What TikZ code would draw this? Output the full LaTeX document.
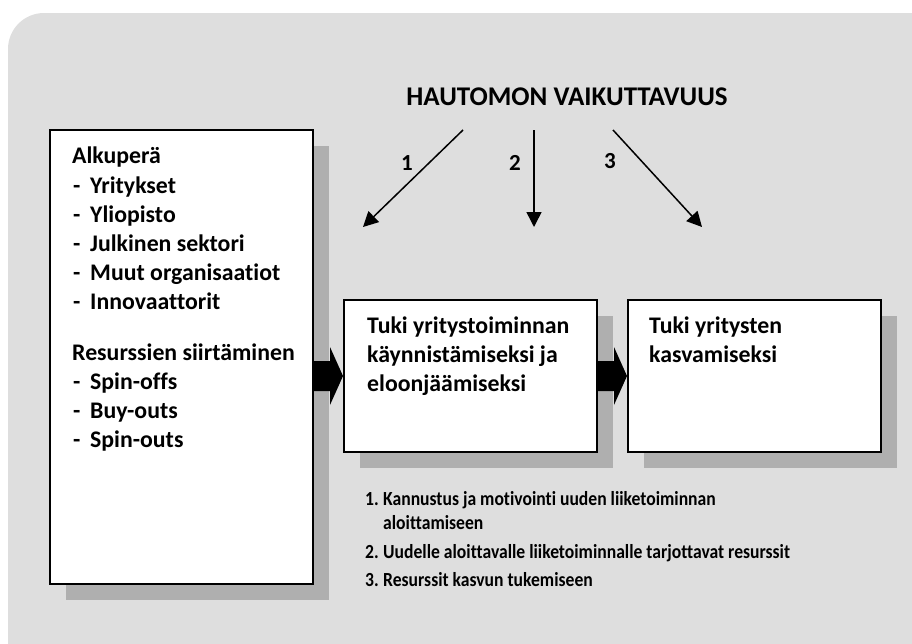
\documentclass[tikz,border=0pt]{standalone}
\usepackage{fontspec}
\setmainfont{Carlito}[Ligatures=NoCommon]
\newfontfamily\listfont{Carlito}[FakeStretch=0.88, Ligatures=NoCommon]
\usetikzlibrary{calc,arrows.meta,shadows}

\definecolor{panelgray}{HTML}{DEDEDE}
\definecolor{shadowgray}{HTML}{AFAFAF}

\tikzset{
  stagebox/.style={draw=black, line width=2pt, fill=white, rectangle,
    drop shadow={shadow xshift=16pt, shadow yshift=-16pt, fill=shadowgray, opacity=1}},
  heading/.style={font=\fontsize{27}{30}\selectfont\bfseries, inner sep=0pt, anchor=base west},
  boxtext/.style={font=\fontsize{23.8}{28}\selectfont\bfseries, inner sep=0pt, anchor=base west},
  listtext/.style={font=\listfont\fontsize{20}{24}\selectfont\bfseries, inner sep=0pt, anchor=base west},
  thinarrow/.style={line width=1.5pt, -{Triangle[length=15pt,width=15pt]}},
  numlabel/.style={font=\fontsize{23}{26}\selectfont\bfseries, inner sep=0pt, anchor=base},
}

\begin{document}
\begin{tikzpicture}[x=1pt, y=-1pt]
\useasboundingbox (0,0) rectangle (912,643);

% grey panel behind everything
\fill[panelgray, rounded corners=36pt] (8,13) rectangle (950,680);

% title
\node[heading, anchor=base] (title) at (567,105) {HAUTOMON VAIKUTTAVUUS};

% the three stage boxes
\node[stagebox, minimum width=263pt, minimum height=454pt] (origin) at (181.5,357) {};
\node[stagebox, minimum width=253pt, minimum height=152pt] (start) at (470.5,376) {};
\node[stagebox, minimum width=253pt, minimum height=152pt] (grow) at (754.5,376) {};

% left box contents
\node[boxtext] (o0) at (72,163) {Alkuperä};
\foreach \n/\y/\t in {1/193/Yritykset, 2/222/Yliopisto, 3/251/Julkinen sektori,
                      4/280/Muut organisaatiot, 5/309/Innovaattorit}{
  \node[boxtext] (od\n) at (73,\y) {-};
  \node[boxtext] (oi\n) at (90,\y) {\t};
}
\node[boxtext] (r0) at (72,360) {Resurssien siirtäminen};
\foreach \n/\y/\t in {1/389/Spin-offs, 2/418/Buy-outs, 3/447/Spin-outs}{
  \node[boxtext] (rd\n) at (73,\y) {-};
  \node[boxtext] (ri\n) at (90,\y) {\t};
}

% middle and right box contents
\node[boxtext] (s1) at (367,333) {Tuki yritystoiminnan};
\node[boxtext] (s2) at (367,362) {käynnistämiseksi ja};
\node[boxtext] (s3) at (367,391) {eloonjäämiseksi};
\node[boxtext] (g1) at (649,333) {Tuki yritysten};
\node[boxtext] (g2) at (649,362) {kasvamiseksi};

% block arrows between the stages
\foreach \a/\b in {origin/start, start/grow}{
  \fill[black] ($(\a.east |- \b.west)+(-1,-15)$) -- ($(\b.west)+(-13,-15)$)
    -- ($(\b.west)+(-13,-29)$) -- (\b.west) -- ($(\b.west)+(-13,29)$)
    -- ($(\b.west)+(-13,15)$) -- ($(\a.east |- \b.west)+(-1,15)$) -- cycle;
}

% impact arrows from the title
\coordinate (a1s) at (463,130);
\coordinate (a1e) at (363,227);
\coordinate (a2s) at (534,130);
\coordinate (a2e) at (534,227);
\coordinate (a3s) at (613,130);
\coordinate (a3e) at (702,227);
\draw[thinarrow] (a1s) -- (a1e);
\draw[thinarrow] (a2s) -- (a2e);
\draw[thinarrow] (a3s) -- (a3e);
\node[numlabel] (n1) at (407,170) {1};
\node[numlabel] (n2) at (515,170) {2};
\node[numlabel] (n3) at (610,168) {3};

% numbered explanation list
\node[listtext] (l1n) at (365,505) {1.};
\node[listtext] (l1) at (383,505) {Kannustus ja motivointi uuden liiketoiminnan};
\node[listtext] (l1b) at (383,529) {aloittamiseen};
\node[listtext] (l2n) at (365,558) {2.};
\node[listtext] (l2) at (383,558) {Uudelle aloittavalle liiketoiminnalle tarjottavat resurssit};
\node[listtext] (l3n) at (365,586) {3.};
\node[listtext] (l3) at (383,586) {Resurssit kasvun tukemiseen};
\end{tikzpicture}
\end{document}
